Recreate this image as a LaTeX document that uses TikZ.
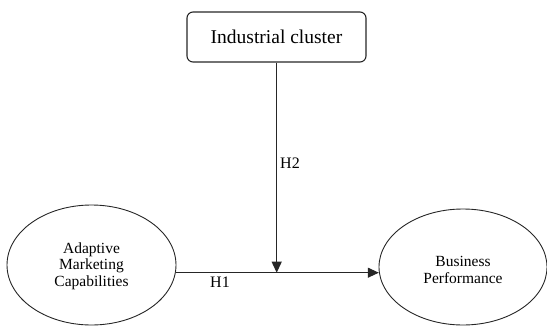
\documentclass[tikz,border=0pt]{standalone}
\usepackage{fontspec}
\setmainfont{Liberation Serif}
\usetikzlibrary{arrows.meta}
\begin{document}
\begin{tikzpicture}[x=1pt,y=-1pt,
  boxnode/.style={draw=black!85, line width=1.1pt, rounded corners=6pt, minimum width=179pt, minimum height=50pt, inner sep=0pt, font=\fontsize{19.5}{22}\selectfont},
  ellnode/.style={draw=black!85, line width=0.9pt, ellipse, inner sep=0pt, align=center, font=\fontsize{15.5}{16.5}\selectfont},
  conn/.style={draw=black!85, line width=1.1pt, -{Triangle[length=11pt,width=10pt]}},
  lbl/.style={font=\fontsize{16}{18}\selectfont, inner sep=0pt}]
\useasboundingbox (0,0) rectangle (547,327);
\node[boxnode] (ic) at (276.5,37) {Industrial cluster};
\draw[draw=black!85, line width=0.9pt] (91.5,265) ellipse [x radius=84.5, y radius=60];
\node[inner sep=0pt, minimum width=169pt, minimum height=120pt, align=center, font=\fontsize{15.5}{16.5}\selectfont] (amc) at (91.5,266) {Adaptive\\Marketing\\Capabilities};
\draw[draw=black!85, line width=0.9pt] (463,267) ellipse [x radius=84, y radius=58];
\node[inner sep=0pt, minimum width=168pt, minimum height=116pt, align=center, font=\fontsize{15.5}{16.5}\selectfont] (bp) at (463,270) {Business\\Performance};
\coordinate (meet) at (276.7,272.7);
\draw[conn] (ic.south -| meet) -- (meet);
\draw[conn] (amc.east |- meet) -- (bp.west |- meet);
\node[lbl, anchor=west] (h2) at (280,163) {H2};
\node[lbl] (h1) at (220,282) {H1};
\end{tikzpicture}
\end{document}
